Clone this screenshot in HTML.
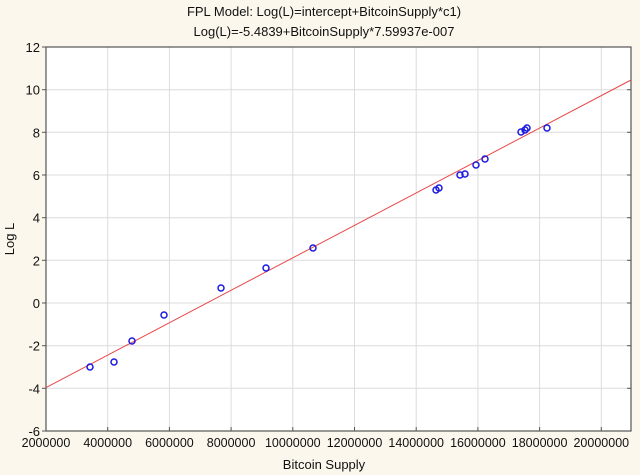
<!DOCTYPE html>
<html><head><style>
body{margin:0;background:#fcf7ec;}
svg{display:block;font-family:"Liberation Sans",Arial,sans-serif;}
</style></head><body>
<svg width="640" height="475" viewBox="0 0 640 475">
<rect width="640" height="475" fill="#fcf7ec"/>
<rect x="46" y="47" width="585" height="384" fill="#fff"/>
<g stroke="#dcdcdc" stroke-width="1">
<line x1="107.7" y1="47" x2="107.7" y2="431"/>
<line x1="169.4" y1="47" x2="169.4" y2="431"/>
<line x1="231.1" y1="47" x2="231.1" y2="431"/>
<line x1="292.8" y1="47" x2="292.8" y2="431"/>
<line x1="354.5" y1="47" x2="354.5" y2="431"/>
<line x1="416.2" y1="47" x2="416.2" y2="431"/>
<line x1="477.9" y1="47" x2="477.9" y2="431"/>
<line x1="539.6" y1="47" x2="539.6" y2="431"/>
<line x1="601.3" y1="47" x2="601.3" y2="431"/>
<line x1="46" y1="89.7" x2="631" y2="89.7"/>
<line x1="46" y1="132.3" x2="631" y2="132.3"/>
<line x1="46" y1="175" x2="631" y2="175"/>
<line x1="46" y1="217.7" x2="631" y2="217.7"/>
<line x1="46" y1="260.3" x2="631" y2="260.3"/>
<line x1="46" y1="303" x2="631" y2="303"/>
<line x1="46" y1="345.7" x2="631" y2="345.7"/>
<line x1="46" y1="388.3" x2="631" y2="388.3"/>
</g>
<rect x="46" y="47" width="585" height="384" fill="none" stroke="#555" stroke-width="1.2"/>
<g stroke="#555" stroke-width="1">
<line x1="42" y1="47" x2="46" y2="47"/><line x1="42" y1="89.7" x2="46" y2="89.7"/><line x1="42" y1="132.3" x2="46" y2="132.3"/><line x1="42" y1="175" x2="46" y2="175"/><line x1="42" y1="217.7" x2="46" y2="217.7"/><line x1="42" y1="260.3" x2="46" y2="260.3"/><line x1="42" y1="303" x2="46" y2="303"/><line x1="42" y1="345.7" x2="46" y2="345.7"/><line x1="42" y1="388.3" x2="46" y2="388.3"/><line x1="42" y1="431" x2="46" y2="431"/>
<line x1="627" y1="89.7" x2="631" y2="89.7"/><line x1="627" y1="132.3" x2="631" y2="132.3"/><line x1="627" y1="175" x2="631" y2="175"/><line x1="627" y1="217.7" x2="631" y2="217.7"/><line x1="627" y1="260.3" x2="631" y2="260.3"/><line x1="627" y1="303" x2="631" y2="303"/><line x1="627" y1="345.7" x2="631" y2="345.7"/><line x1="627" y1="388.3" x2="631" y2="388.3"/>
<line x1="107.7" y1="427" x2="107.7" y2="431"/><line x1="169.4" y1="427" x2="169.4" y2="431"/><line x1="231.1" y1="427" x2="231.1" y2="431"/><line x1="292.8" y1="427" x2="292.8" y2="431"/><line x1="354.5" y1="427" x2="354.5" y2="431"/><line x1="416.2" y1="427" x2="416.2" y2="431"/><line x1="477.9" y1="427" x2="477.9" y2="431"/><line x1="539.6" y1="427" x2="539.6" y2="431"/><line x1="601.3" y1="427" x2="601.3" y2="431"/>
</g>
<line x1="46" y1="387.6" x2="631" y2="80" stroke="#e8484a" stroke-width="1"/>
<g fill="none" stroke="#1a1ae0" stroke-width="1.5">
<circle cx="90" cy="367" r="3"/><circle cx="114" cy="362" r="3"/><circle cx="132" cy="341" r="3"/><circle cx="164" cy="315" r="3"/><circle cx="221" cy="288" r="3"/><circle cx="266" cy="268" r="3"/><circle cx="313" cy="248" r="3"/><circle cx="436" cy="190" r="3"/><circle cx="439" cy="188" r="3"/><circle cx="460" cy="175" r="3"/><circle cx="465" cy="174" r="3"/><circle cx="476" cy="165" r="3"/><circle cx="485" cy="159" r="3"/><circle cx="521" cy="132" r="3"/><circle cx="525" cy="130" r="3"/><circle cx="527" cy="128" r="3"/><circle cx="547" cy="128" r="3"/>
</g>
<g font-size="13" fill="#111" text-anchor="end">
<text x="40" y="52">12</text><text x="40" y="94.7">10</text><text x="40" y="137.3">8</text><text x="40" y="180">6</text><text x="40" y="222.7">4</text><text x="40" y="265.3">2</text><text x="40" y="308">0</text><text x="40" y="350.7">-2</text><text x="40" y="393.3">-4</text><text x="40" y="436">-6</text>
</g>
<g font-size="12.5" fill="#111" text-anchor="middle">
<text x="46" y="447">2000000</text><text x="107.7" y="447">4000000</text><text x="169.4" y="447">6000000</text><text x="231.1" y="447">8000000</text><text x="292.8" y="447">10000000</text><text x="354.5" y="447">12000000</text><text x="416.2" y="447">14000000</text><text x="477.9" y="447">16000000</text><text x="539.6" y="447">18000000</text><text x="601.3" y="447">20000000</text>
</g>
<g font-size="13" fill="#111" text-anchor="middle">
<text x="324" y="16">FPL Model: Log(L)=intercept+BitcoinSupply*c1)</text>
<text x="324" y="36">Log(L)=-5.4839+BitcoinSupply*7.59937e-007</text>
<text x="324" y="469">Bitcoin Supply</text>
<text x="0" y="0" transform="translate(14,239) rotate(-90)">Log L</text>
</g>
</svg>
</body></html>
